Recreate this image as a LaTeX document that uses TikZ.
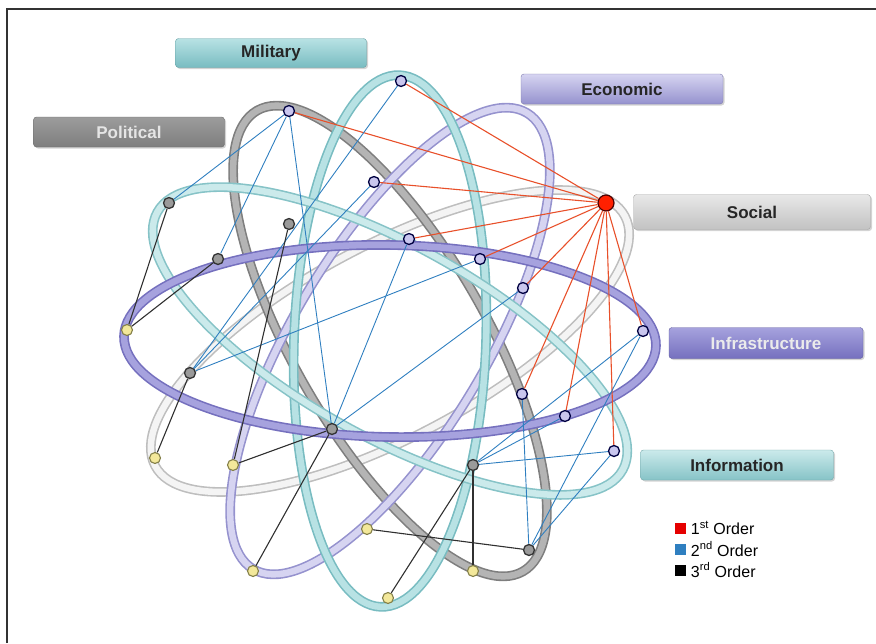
\documentclass[tikz,border=0pt]{standalone}
\usepackage{fontspec}
\setmainfont{Liberation Sans}
\usetikzlibrary{shadows}

% ring colours (edge / body)
\definecolor{infraA}{HTML}{7570BE}\definecolor{infraB}{HTML}{A6A2DE}
\definecolor{socA}{HTML}{BEBEBE}\definecolor{socB}{HTML}{F4F4F4}
\definecolor{ecoA}{HTML}{9592CE}\definecolor{ecoB}{HTML}{D6D4F1}
\definecolor{milA}{HTML}{78BCC1}\definecolor{milB}{HTML}{B8E2E4}
\definecolor{polA}{HTML}{7E7E7E}\definecolor{polB}{HTML}{B4B4B4}
\definecolor{infoA}{HTML}{86C3C7}\definecolor{infoB}{HTML}{CBEAEB}
% tag colours
\definecolor{socTagA}{HTML}{C2C2C2}\definecolor{socTagB}{HTML}{E8E8E8}
\definecolor{polTagB}{HTML}{9C9C9C}
% links and dots
\definecolor{redlink}{HTML}{E8502A}
\definecolor{bluelink}{HTML}{2F7FC0}
\definecolor{blacklink}{HTML}{303030}
\definecolor{dotlav}{HTML}{C9C6EE}
\definecolor{dotgray}{HTML}{9A9A9A}
\definecolor{dotyel}{HTML}{F3E89A}

\tikzset{
  ring/.style 2 args={draw=#1,double=#2,line width=1.6pt,double distance=6.5pt},
  tagbox/.style 2 args={rounded corners=3pt,top color=#1,bottom color=#2,
    draw=#2!85!black,line width=0.4pt,inner sep=0pt,
    drop shadow={opacity=0.35,shadow xshift=1.5pt,shadow yshift=-1.5pt},
    font=\fontsize{17}{19}\selectfont\bfseries},
  firstdot/.style={circle,inner sep=0pt,minimum size=11pt,draw=black!75!blue,line width=1.3pt,fill=dotlav},
  seconddot/.style={circle,inner sep=0pt,minimum size=11pt,draw=black!80,line width=1.3pt,fill=dotgray},
  thirddot/.style={circle,inner sep=0pt,minimum size=11pt,draw=black!55!yellow,line width=1.1pt,fill=dotyel},
  rlink/.style={draw=redlink,line width=1.1pt},
  blink/.style={draw=bluelink,line width=0.9pt},
  klink/.style={draw=blacklink,line width=1.1pt},
  keybox/.style={minimum size=11pt,inner sep=0pt,fill=#1}
}

\begin{document}
\begin{tikzpicture}[x=1pt,y=-1pt]
\useasboundingbox (0,0) rectangle (876,643);

% frame
\draw[line width=2pt,black!80] (7,643) -- (7,9) -- (876,9);

% rings
\foreach \ang/\ea/\eb in {28/socA/socB,120/polA/polB,59/ecoA/ecoB,88/milA/milB,151/infoA/infoB,-1/infraA/infraB}
  \draw[ring={\ea}{\eb},rotate around={\ang:(390,341)}] (390,341) ellipse (266 and 96);

% domain tags
\node[tagbox={milB}{milA},minimum width=191pt,minimum height=29pt,text=black!85] (mil) at (271,53) {Military};
\node[tagbox={polTagB}{polA},minimum width=191pt,minimum height=30pt,text=black!10] (pol) at (129,132) {Political};
\node[tagbox={ecoB}{ecoA},minimum width=202pt,minimum height=30pt,text=black!85] (eco) at (622,89) {Economic};
\node[tagbox={socTagB}{socTagA},minimum width=237pt,minimum height=35pt,text=black!85] (soc) at (752,212) {Social};
\node[tagbox={infraB}{infraA},minimum width=194pt,minimum height=31pt,text=black!8] (infra) at (766,343) {Infrastructure};
\node[tagbox={infoB}{infoA},minimum width=193pt,minimum height=30pt,text=black!85] (info) at (737,465) {Information};

% event and its effects
\node[circle,inner sep=0pt,minimum size=16pt,draw=black!70!red,line width=1.2pt,fill=red!75!orange] (hub) at (606,203) {};

\node[firstdot] (f1) at (401,81) {};
\node[firstdot] (f2) at (289,111) {};
\node[firstdot] (f3) at (374,182) {};
\node[firstdot] (f4) at (409,239) {};
\node[firstdot] (f5) at (480,259) {};
\node[firstdot] (f6) at (523,288) {};
\node[firstdot] (f7) at (643,331) {};
\node[firstdot] (f8) at (565,416) {};
\node[firstdot] (f9) at (522,394) {};
\node[firstdot] (f10) at (614,451) {};

\node[seconddot] (s1) at (169,203) {};
\node[seconddot] (s2) at (218,259) {};
\node[seconddot] (s3) at (289,224) {};
\node[seconddot] (s4) at (190,373) {};
\node[seconddot] (s5) at (332,429) {};
\node[seconddot] (s6) at (473,465) {};
\node[seconddot] (s7) at (529,550) {};

\node[thirddot] (t1) at (127,330) {};
\node[thirddot] (t2) at (155,458) {};
\node[thirddot] (t3) at (233,465) {};
\node[thirddot] (t4) at (253,571) {};
\node[thirddot] (t5) at (367,529) {};
\node[thirddot] (t6) at (388,598) {};
\node[thirddot] (t7) at (473,571) {};

% 1st order
\foreach \n in {f1,f2,f3,f4,f5,f6,f7,f8,f9,f10}
  \draw[rlink] (hub) -- (\n);

% 2nd order
\foreach \a/\b in {f2/s1,f2/s2,f2/s5,f1/s4,f3/s4,f5/s4,f4/s5,f6/s5,f10/s6,f8/s6,f7/s6,f9/s7,f10/s7,f7/s7}
  \draw[blink] (\a) -- (\b);

% 3rd order
\foreach \a/\b in {s1/t1,s2/t1,s3/t3,s4/t2,s5/t3,s5/t4,s6/t6,s6/t7,t5/s7}
  \draw[klink] (\a) -- (\b);

% legend
\node[keybox=red!90!black] (k1) at (680,528) {};
\node[keybox=bluelink] (k2) at (680,549) {};
\node[keybox=black] (k3) at (680,570) {};
\node[anchor=west,font=\fontsize{16}{17}\selectfont,inner sep=0pt] at ([xshift=5pt]k1.east) {1\textsuperscript{st} Order};
\node[anchor=west,font=\fontsize{16}{17}\selectfont,inner sep=0pt] at ([xshift=5pt]k2.east) {2\textsuperscript{nd} Order};
\node[anchor=west,font=\fontsize{16}{17}\selectfont,inner sep=0pt] at ([xshift=5pt]k3.east) {3\textsuperscript{rd} Order};
\end{tikzpicture}
\end{document}
